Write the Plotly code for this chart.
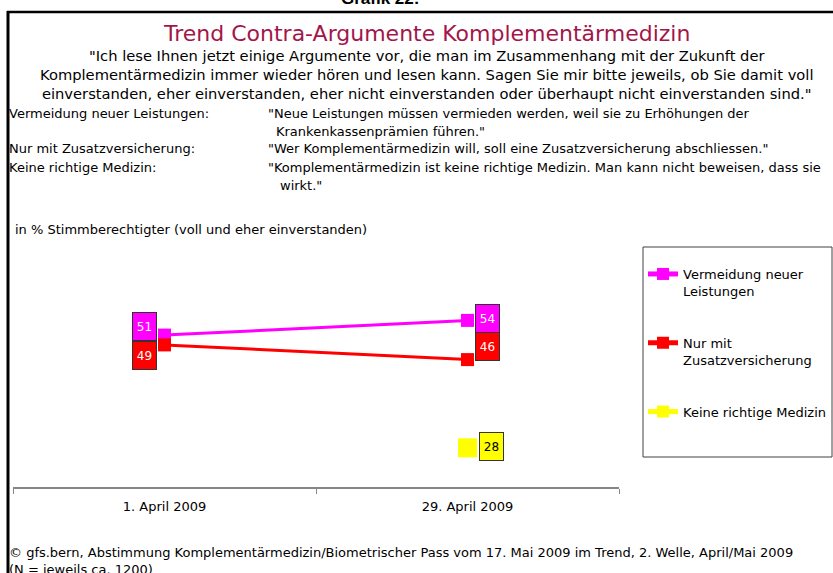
import plotly.graph_objects as go

# ---------------- data ----------------
categories = ["1. April 2009", "29. April 2009"]
series_names = ["Vermeidung neuer<br>Leistungen", "Nur mit<br>Zusatzversicherung", "Keine richtige Medizin"]
vermeidung = [51, 54]
zusatz = [49, 46]
keine = [None, 28]
series_values = [vermeidung, zusatz, keine]

# ---------------- styles ----------------
colors = ["#FF00FF", "#FF0000", "#FFFF00"]
label_font_colors = ["white", "white", "black"]
marker_sizes = [13, 13, 19]
# label offsets (pixels) per series per point: (xshift, yshift)
label_offsets = [
    [(-20, 9), (20, 1.5)],
    [(-20, -11), (20, 13)],
    [(0, 0), (23.5, 1)],
]

W, H = 833, 573
FONT = "DejaVu Sans"


def px(x):
    return x / W


def py(y):
    return 1 - y / H


fig = go.Figure()

for name, vals, col, ms in zip(series_names, series_values, colors, marker_sizes):
    fig.add_trace(go.Scatter(
        x=categories, y=vals, name=name, mode="lines+markers",
        line=dict(color=col, width=3),
        marker=dict(symbol="square", size=ms, color=col),
        legendgroup=name,
        hoverinfo="skip",
    ))

annotations = []
# data labels
for vals, col, fcol, offs in zip(series_values, colors, label_font_colors, label_offsets):
    for cat, v, (dx, dy) in zip(categories, vals, offs):
        if v is None:
            continue
        annotations.append(dict(
            x=cat, y=v, xref="x", yref="y", text=str(v), showarrow=False,
            xshift=dx, yshift=dy, bgcolor=col, bordercolor="#333333", borderwidth=1,
            width=21, height=25, font=dict(family=FONT, size=12, color=fcol),
        ))

def txt(text, x, y, size=13, color="black", xanchor="left", yanchor="middle", family=FONT, align="left"):
    annotations.append(dict(
        text=text, x=px(x), y=py(y), xref="paper", yref="paper", showarrow=False,
        xanchor=xanchor, yanchor=yanchor, align=align,
        font=dict(family=family, size=size, color=color),
    ))

txt("<b>Grafik 22:</b>", 380, 10, size=17, xanchor="center", yanchor="bottom", family="Liberation Sans")
txt("Trend Contra-Argumente Komplementärmedizin", 427, 33, size=22, color="#A3164A", xanchor="center")
txt("\"Ich lese Ihnen jetzt einige Argumente vor, die man im Zusammenhang mit der Zukunft der<br>"
    "Komplementärmedizin immer wieder hören und lesen kann. Sagen Sie mir bitte jeweils, ob Sie damit voll<br>"
    "einverstanden, eher einverstanden, eher nicht einverstanden oder überhaupt nicht einverstanden sind.\"",
    426, 75, size=14.7, xanchor="center", align="center")

txt("Vermeidung neuer Leistungen:", 7, 113.5)
txt("Nur mit Zusatzversicherung:", 7, 149)
txt("Keine richtige Medizin:", 7, 167)
txt("\"Neue Leistungen müssen vermieden werden, weil sie zu Erhöhungen der", 266, 113.5)
txt("Krankenkassenprämien führen.\"", 274, 131)
txt("\"Wer Komplementärmedizin will, soll eine Zusatzversicherung abschliessen.\"", 266, 149)
txt("\"Komplementärmedizin ist keine richtige Medizin. Man kann nicht beweisen, dass sie", 266, 167)
txt("wirkt.\"", 278, 185)

txt("in % Stimmberechtigter (voll und eher einverstanden)", 13, 230)

txt("© gfs.bern, Abstimmung Komplementärmedizin/Biometrischer Pass vom 17. Mai 2009 im Trend, 2. Welle, April/Mai 2009",
    7, 552)
txt("(N = jeweils ca. 1200)", 7, 569)

shapes = [
    dict(type="line", xref="paper", yref="paper", x0=px(7), x1=px(833), y0=py(12), y1=py(12),
         line=dict(color="black", width=2.5)),
    dict(type="line", xref="paper", yref="paper", x0=px(8), x1=px(8), y0=py(11), y1=py(573),
         line=dict(color="black", width=3)),
    dict(type="rect", xref="paper", yref="paper", x0=px(643), x1=px(832), y0=py(457), y1=py(247),
         line=dict(color="#404040", width=1)),
]

fig.update_layout(
    width=W, height=H,
    margin=dict(l=0, r=0, t=0, b=0),
    paper_bgcolor="white", plot_bgcolor="white",
    showlegend=True,
    legend=dict(
        x=px(643), y=py(259), xanchor="left", yanchor="top",
        bgcolor="rgba(0,0,0,0)", borderwidth=0,
        font=dict(family=FONT, size=13, color="black"),
        valign="top", tracegroupgap=32, traceorder="grouped", itemsizing="constant",
    ),
    xaxis=dict(
        type="category", range=[-0.5, 1.5], domain=[px(13), px(619)],
        showline=True, linecolor="#868686", linewidth=2,
        ticks="outside", ticklen=5, tickcolor="#868686", tickwidth=1, tickson="boundaries",
        showgrid=False, zeroline=False,
        tickfont=dict(family=FONT, size=13, color="black"), ticklabelstandoff=6,
    ),
    yaxis=dict(
        range=[20, 60], domain=[py(487), py(291)], visible=False,
        showgrid=False, zeroline=False,
    ),
    annotations=annotations,
    shapes=shapes,
)

fig.write_html(
    "out.html",
    config={"displayModeBar": False, "staticPlot": True},
    post_script="document.body.style.margin='0';document.body.style.padding='0';document.body.style.overflow='hidden';",
)
